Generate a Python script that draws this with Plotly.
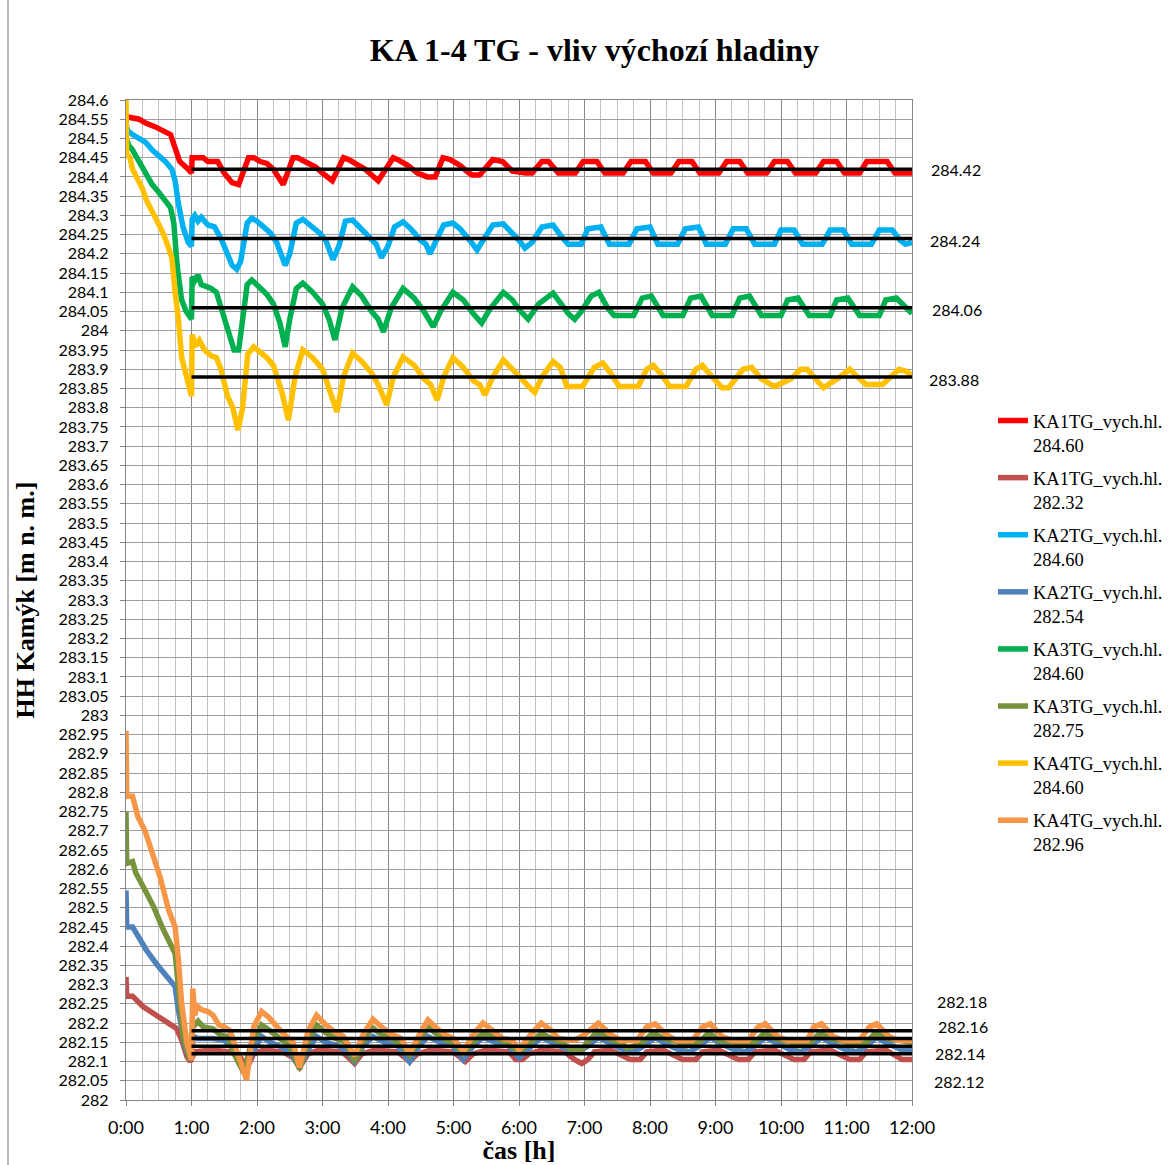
import plotly.graph_objects as go

# Water level at Kamýk (HH, m a.s.l.) over 12 hours, four TG scenarios,
# each started from a high (284.60) and a low initial level.
# Points are (time [h], level [m n. m.]).
ka1_hi = [(0.00, 284.56), (0.05, 284.555), (0.20, 284.55), (0.30, 284.54), (0.45, 284.53), (0.55, 284.52),
          (0.68, 284.51), (0.74, 284.48), (0.82, 284.44), (0.95, 284.42), (1.00, 284.41), (1.01, 284.45),
          (1.18, 284.45), (1.25, 284.44), (1.40, 284.44), (1.50, 284.41), (1.62, 284.385), (1.72, 284.38),
          (1.87, 284.45), (1.95, 284.45), (2.05, 284.44), (2.15, 284.435), (2.25, 284.42), (2.40, 284.38),
          (2.55, 284.45), (2.62, 284.45), (2.75, 284.44), (2.90, 284.425), (3.00, 284.41), (3.15, 284.39),
          (3.32, 284.45), (3.40, 284.445), (3.55, 284.43), (3.65, 284.42), (3.85, 284.39), (4.08, 284.45),
          (4.15, 284.445), (4.30, 284.43), (4.45, 284.41), (4.60, 284.40), (4.72, 284.40), (4.84, 284.45),
          (4.95, 284.445), (5.10, 284.43), (5.20, 284.415), (5.28, 284.405), (5.40, 284.405), (5.60, 284.445),
          (5.75, 284.44), (5.90, 284.415), (6.10, 284.41), (6.20, 284.41), (6.35, 284.44), (6.45, 284.44),
          (6.60, 284.41), (6.86, 284.41), (6.98, 284.44), (7.19, 284.44), (7.31, 284.41), (7.59, 284.41),
          (7.71, 284.44), (7.93, 284.44), (8.05, 284.41), (8.32, 284.41), (8.44, 284.44), (8.64, 284.44),
          (8.76, 284.41), (9.05, 284.41), (9.17, 284.44), (9.37, 284.44), (9.49, 284.41), (9.78, 284.41),
          (9.90, 284.44), (10.10, 284.44), (10.22, 284.41), (10.53, 284.41), (10.65, 284.44), (10.85, 284.44),
          (10.97, 284.41), (11.20, 284.41), (11.31, 284.44), (11.62, 284.44), (11.74, 284.41), (12.00, 284.41)]

ka1_lo = [(0.00, 282.32), (0.01, 282.27), (0.10, 282.27), (0.26, 282.243), (0.42, 282.225), (0.57, 282.208),
          (0.77, 282.186), (0.85, 282.156), (0.93, 282.113), (0.98, 282.10), (1.05, 282.125), (1.30, 282.13),
          (1.60, 282.125), (1.75, 282.11), (1.85, 282.085), (1.95, 282.12), (2.10, 282.13), (2.40, 282.125),
          (2.55, 282.11), (2.65, 282.085), (2.78, 282.12), (2.95, 282.13), (3.30, 282.125), (3.40, 282.11),
          (3.49, 282.095), (3.60, 282.12), (3.80, 282.13), (4.15, 282.125), (4.25, 282.11), (4.33, 282.10),
          (4.45, 282.12), (4.65, 282.13), (5.00, 282.125), (5.10, 282.11), (5.18, 282.10), (5.30, 282.12),
          (5.50, 282.13), (5.85, 282.125), (5.95, 282.105), (6.05, 282.105), (6.15, 282.12), (6.35, 282.13),
          (6.70, 282.125), (6.85, 282.105), (6.96, 282.095), (7.05, 282.105), (7.15, 282.125), (7.40, 282.13),
          (7.60, 282.115), (7.70, 282.105), (7.85, 282.105), (7.95, 282.125), (8.20, 282.13), (8.40, 282.115),
          (8.50, 282.105), (8.70, 282.105), (8.80, 282.125), (9.05, 282.13), (9.25, 282.115), (9.35, 282.105),
          (9.50, 282.105), (9.60, 282.125), (9.90, 282.13), (10.10, 282.115), (10.20, 282.105), (10.35, 282.105),
          (10.45, 282.125), (10.75, 282.13), (10.95, 282.115), (11.05, 282.105), (11.20, 282.105), (11.30, 282.125),
          (11.60, 282.13), (11.75, 282.115), (11.85, 282.105), (12.00, 282.105)]

ka2_hi = [(0.00, 284.535), (0.03, 284.52), (0.10, 284.51), (0.20, 284.50), (0.30, 284.49), (0.40, 284.47),
          (0.50, 284.455), (0.60, 284.44), (0.70, 284.42), (0.75, 284.39), (0.80, 284.33), (0.87, 284.27),
          (0.95, 284.23), (1.00, 284.22), (1.01, 284.29), (1.05, 284.30), (1.10, 284.285), (1.15, 284.295),
          (1.25, 284.275), (1.35, 284.27), (1.45, 284.24), (1.55, 284.20), (1.62, 284.17), (1.69, 284.16),
          (1.75, 284.18), (1.85, 284.28), (1.92, 284.293), (2.00, 284.285), (2.10, 284.27), (2.20, 284.255),
          (2.30, 284.23), (2.38, 284.19), (2.43, 284.17), (2.50, 284.20), (2.60, 284.28), (2.70, 284.29),
          (2.80, 284.275), (2.95, 284.255), (3.05, 284.235), (3.16, 284.185), (3.25, 284.22), (3.35, 284.285),
          (3.46, 284.288), (3.60, 284.265), (3.75, 284.24), (3.82, 284.225), (3.90, 284.19), (4.00, 284.22),
          (4.10, 284.27), (4.23, 284.283), (4.35, 284.265), (4.50, 284.235), (4.58, 284.225), (4.64, 284.20),
          (4.75, 284.24), (4.85, 284.275), (4.99, 284.28), (5.10, 284.265), (5.25, 284.235), (5.30, 284.225),
          (5.36, 284.21), (5.45, 284.235), (5.60, 284.275), (5.76, 284.278), (5.90, 284.255), (6.00, 284.235),
          (6.09, 284.215), (6.20, 284.23), (6.35, 284.27), (6.52, 284.275), (6.65, 284.245), (6.75, 284.225),
          (6.95, 284.225), (7.05, 284.265), (7.25, 284.27), (7.38, 284.225), (7.68, 284.225), (7.80, 284.265),
          (8.00, 284.27), (8.12, 284.225), (8.42, 284.225), (8.54, 284.265), (8.74, 284.27), (8.86, 284.225),
          (9.15, 284.225), (9.27, 284.265), (9.47, 284.265), (9.60, 284.225), (9.90, 284.225), (10.00, 284.262),
          (10.20, 284.262), (10.33, 284.225), (10.63, 284.225), (10.75, 284.262), (10.95, 284.262), (11.08, 284.225),
          (11.38, 284.225), (11.50, 284.262), (11.70, 284.262), (11.82, 284.235), (11.90, 284.225), (12.00, 284.23)]

ka2_lo = [(0.00, 282.545), (0.01, 282.45), (0.10, 282.45), (0.18, 282.425), (0.31, 282.39), (0.46, 282.355),
          (0.62, 282.32), (0.75, 282.295), (0.80, 282.234), (0.90, 282.139), (0.98, 282.104), (1.03, 282.165),
          (1.10, 282.16), (1.33, 282.16), (1.50, 282.155), (1.60, 282.14), (1.70, 282.11), (1.82, 282.075),
          (1.92, 282.12), (2.07, 282.165), (2.20, 282.15), (2.35, 282.14), (2.50, 282.125), (2.65, 282.085),
          (2.78, 282.13), (2.91, 282.165), (3.05, 282.15), (3.25, 282.14), (3.35, 282.13), (3.49, 282.10),
          (3.62, 282.14), (3.77, 282.165), (3.95, 282.15), (4.15, 282.14), (4.33, 282.10), (4.47, 282.14),
          (4.61, 282.165), (4.80, 282.15), (5.00, 282.14), (5.15, 282.105), (5.30, 282.14), (5.45, 282.163),
          (5.65, 282.15), (5.85, 282.14), (6.00, 282.11), (6.18, 282.14), (6.34, 282.163), (6.50, 282.15),
          (6.70, 282.135), (6.90, 282.125), (7.05, 282.14), (7.21, 282.163), (7.40, 282.145), (7.60, 282.13),
          (7.75, 282.125), (7.90, 282.14), (8.08, 282.163), (8.25, 282.145), (8.45, 282.13), (8.60, 282.125),
          (8.75, 282.14), (8.92, 282.163), (9.10, 282.145), (9.30, 282.13), (9.45, 282.125), (9.60, 282.14),
          (9.76, 282.163), (9.95, 282.145), (10.15, 282.13), (10.30, 282.125), (10.45, 282.14), (10.62, 282.163),
          (10.80, 282.145), (11.00, 282.13), (11.15, 282.125), (11.30, 282.14), (11.46, 282.163), (11.65, 282.145),
          (11.85, 282.13), (12.00, 282.13)]

ka3_hi = [(0.00, 284.50), (0.05, 284.48), (0.10, 284.47), (0.20, 284.44), (0.30, 284.41), (0.40, 284.38),
          (0.50, 284.36), (0.60, 284.335), (0.68, 284.32), (0.73, 284.28), (0.78, 284.17), (0.85, 284.08),
          (0.92, 284.05), (1.00, 284.03), (1.01, 284.14), (1.05, 284.13), (1.10, 284.145), (1.15, 284.12),
          (1.22, 284.115), (1.30, 284.11), (1.38, 284.10), (1.45, 284.06), (1.55, 284.00), (1.65, 283.95),
          (1.72, 283.95), (1.80, 284.06), (1.85, 284.12), (1.92, 284.132), (2.05, 284.11), (2.15, 284.095),
          (2.25, 284.07), (2.35, 284.02), (2.43, 283.958), (2.50, 284.03), (2.60, 284.11), (2.70, 284.124),
          (2.85, 284.10), (3.00, 284.07), (3.10, 284.03), (3.19, 283.976), (3.30, 284.06), (3.46, 284.114),
          (3.60, 284.09), (3.75, 284.05), (3.85, 284.03), (3.93, 283.997), (4.05, 284.06), (4.23, 284.11),
          (4.40, 284.085), (4.55, 284.05), (4.69, 284.01), (4.80, 284.05), (4.99, 284.10), (5.15, 284.08),
          (5.30, 284.045), (5.43, 284.02), (5.55, 284.055), (5.76, 284.10), (5.90, 284.08), (6.00, 284.055),
          (6.14, 284.03), (6.30, 284.07), (6.52, 284.098), (6.65, 284.07), (6.75, 284.045), (6.85, 284.03),
          (6.95, 284.05), (7.10, 284.09), (7.22, 284.10), (7.35, 284.06), (7.45, 284.04), (7.75, 284.04),
          (7.88, 284.085), (8.02, 284.09), (8.15, 284.05), (8.20, 284.04), (8.50, 284.04), (8.62, 284.085),
          (8.78, 284.09), (8.90, 284.05), (8.95, 284.04), (9.25, 284.04), (9.37, 284.085), (9.52, 284.09),
          (9.65, 284.05), (9.70, 284.04), (10.00, 284.04), (10.10, 284.08), (10.26, 284.085), (10.38, 284.05),
          (10.43, 284.04), (10.75, 284.04), (10.85, 284.08), (11.02, 284.085), (11.15, 284.05), (11.20, 284.04),
          (11.50, 284.04), (11.60, 284.08), (11.76, 284.085), (11.90, 284.06), (12.00, 284.045)]

ka3_lo = [(0.00, 282.75), (0.01, 282.615), (0.10, 282.62), (0.15, 282.59), (0.29, 282.546), (0.42, 282.503),
          (0.55, 282.45), (0.68, 282.407), (0.75, 282.381), (0.80, 282.295), (0.87, 282.165), (0.98, 282.104),
          (1.02, 282.20), (1.05, 282.195), (1.10, 282.205), (1.18, 282.19), (1.33, 282.185), (1.45, 282.168),
          (1.55, 282.165), (1.65, 282.12), (1.80, 282.07), (1.90, 282.14), (2.07, 282.195), (2.20, 282.18),
          (2.35, 282.16), (2.50, 282.14), (2.65, 282.08), (2.78, 282.15), (2.91, 282.195), (3.05, 282.175),
          (3.20, 282.16), (3.35, 282.15), (3.49, 282.10), (3.62, 282.15), (3.75, 282.19), (3.90, 282.17),
          (4.05, 282.16), (4.20, 282.145), (4.33, 282.117), (4.47, 282.155), (4.61, 282.19), (4.75, 282.17),
          (4.90, 282.155), (5.00, 282.15), (5.15, 282.12), (5.30, 282.15), (5.45, 282.175), (5.60, 282.165),
          (5.80, 282.15), (6.00, 282.125), (6.18, 282.15), (6.34, 282.173), (6.50, 282.16), (6.65, 282.15),
          (6.80, 282.13), (6.95, 282.13), (7.05, 282.15), (7.20, 282.18), (7.35, 282.16), (7.55, 282.15),
          (7.65, 282.135), (7.85, 282.145), (8.05, 282.175), (8.20, 282.16), (8.45, 282.15), (8.55, 282.14),
          (8.75, 282.15), (8.90, 282.175), (9.05, 282.155), (9.30, 282.15), (9.40, 282.14), (9.60, 282.15),
          (9.75, 282.175), (9.90, 282.16), (10.15, 282.15), (10.25, 282.14), (10.45, 282.15), (10.60, 282.175),
          (10.75, 282.16), (11.00, 282.15), (11.10, 282.14), (11.30, 282.15), (11.45, 282.175), (11.60, 282.16),
          (12.00, 282.15)]

ka4_hi = [(0.00, 284.60), (0.01, 284.46), (0.06, 284.45), (0.10, 284.42), (0.16, 284.40), (0.25, 284.37),
          (0.31, 284.34), (0.40, 284.31), (0.47, 284.29), (0.55, 284.26), (0.62, 284.23), (0.70, 284.19),
          (0.75, 284.10), (0.80, 284.03), (0.85, 283.93), (0.93, 283.88), (1.00, 283.83), (1.01, 283.99),
          (1.06, 283.96), (1.12, 283.975), (1.20, 283.95), (1.30, 283.935), (1.38, 283.93), (1.45, 283.90),
          (1.55, 283.83), (1.63, 283.80), (1.71, 283.742), (1.78, 283.80), (1.86, 283.94), (1.95, 283.958),
          (2.05, 283.945), (2.15, 283.93), (2.25, 283.91), (2.38, 283.84), (2.48, 283.768), (2.58, 283.88),
          (2.70, 283.95), (2.85, 283.93), (3.00, 283.90), (3.10, 283.85), (3.22, 283.789), (3.32, 283.88),
          (3.46, 283.942), (3.60, 283.92), (3.75, 283.89), (3.85, 283.86), (3.98, 283.807), (4.08, 283.88),
          (4.23, 283.932), (4.40, 283.91), (4.55, 283.875), (4.65, 283.86), (4.75, 283.82), (4.85, 283.88),
          (4.99, 283.93), (5.15, 283.905), (5.30, 283.87), (5.40, 283.86), (5.48, 283.833), (5.60, 283.88),
          (5.76, 283.924), (5.90, 283.90), (6.05, 283.87), (6.15, 283.855), (6.24, 283.84), (6.35, 283.88),
          (6.52, 283.92), (6.63, 283.905), (6.73, 283.855), (6.97, 283.855), (7.15, 283.905), (7.28, 283.916),
          (7.40, 283.89), (7.53, 283.855), (7.82, 283.855), (7.95, 283.90), (8.05, 283.91), (8.18, 283.885),
          (8.30, 283.855), (8.55, 283.855), (8.70, 283.90), (8.80, 283.91), (8.95, 283.88), (9.10, 283.852),
          (9.20, 283.852), (9.42, 283.90), (9.55, 283.905), (9.70, 283.875), (9.90, 283.855), (10.15, 283.875),
          (10.30, 283.90), (10.40, 283.90), (10.55, 283.87), (10.65, 283.852), (10.90, 283.88), (11.05, 283.90),
          (11.20, 283.875), (11.30, 283.86), (11.55, 283.86), (11.70, 283.885), (11.80, 283.90), (11.90, 283.895),
          (12.00, 283.885)]

ka4_lo = [(0.00, 282.96), (0.01, 282.79), (0.10, 282.79), (0.18, 282.737), (0.29, 282.70), (0.39, 282.65),
          (0.52, 282.58), (0.65, 282.494), (0.75, 282.45), (0.80, 282.364), (0.85, 282.25), (0.93, 282.148),
          (1.00, 282.104), (1.02, 282.29), (1.05, 282.22), (1.08, 282.245), (1.15, 282.235), (1.25, 282.23),
          (1.33, 282.22), (1.42, 282.195), (1.50, 282.19), (1.59, 282.18), (1.70, 282.12), (1.84, 282.052),
          (1.95, 282.19), (2.07, 282.23), (2.18, 282.215), (2.30, 282.19), (2.40, 282.173), (2.55, 282.15),
          (2.65, 282.085), (2.78, 282.18), (2.91, 282.22), (3.05, 282.195), (3.16, 282.18), (3.32, 282.165),
          (3.49, 282.115), (3.62, 282.17), (3.77, 282.21), (3.90, 282.19), (4.03, 282.173), (4.20, 282.16),
          (4.33, 282.12), (4.48, 282.17), (4.61, 282.208), (4.75, 282.185), (4.89, 282.168), (5.00, 282.16),
          (5.15, 282.126), (5.30, 282.17), (5.45, 282.20), (5.60, 282.18), (5.75, 282.16), (5.90, 282.155),
          (6.00, 282.13), (6.18, 282.17), (6.34, 282.20), (6.50, 282.18), (6.60, 282.16), (6.85, 282.155),
          (7.00, 282.17), (7.21, 282.20), (7.40, 282.17), (7.55, 282.155), (7.80, 282.155), (7.95, 282.19),
          (8.08, 282.198), (8.25, 282.17), (8.40, 282.155), (8.65, 282.155), (8.80, 282.19), (8.92, 282.198),
          (9.10, 282.165), (9.25, 282.155), (9.50, 282.155), (9.65, 282.19), (9.76, 282.198), (9.95, 282.165),
          (10.10, 282.155), (10.40, 282.155), (10.50, 282.19), (10.62, 282.198), (10.80, 282.165), (10.95, 282.155),
          (11.20, 282.155), (11.35, 282.19), (11.46, 282.198), (11.65, 282.165), (11.80, 282.155), (12.00, 282.155)]

series_names = ["KA1TG_vych.hl.<br>284.60", "KA1TG_vych.hl.<br>282.32",
                "KA2TG_vych.hl.<br>284.60", "KA2TG_vych.hl.<br>282.54",
                "KA3TG_vych.hl.<br>284.60", "KA3TG_vych.hl.<br>282.75",
                "KA4TG_vych.hl.<br>284.60", "KA4TG_vych.hl.<br>282.96"]
series_data = [ka1_hi, ka1_lo, ka2_hi, ka2_lo, ka3_hi, ka3_lo, ka4_hi, ka4_lo]
series_colors = ["#FF0000", "#C0504D", "#00B0F0", "#4F81BD",
                 "#00B050", "#77933C", "#FFC000", "#F79646"]

# Steady levels reached after the first hour
ref_levels = [284.42, 284.24, 284.06, 283.88, 282.18, 282.16, 282.14, 282.12]
ref_start, ref_end = 1.0, 12.0
# label anchor heights (the four lower labels are spread apart)
ref_label_y = [284.42, 284.235, 284.055, 283.873, 282.255, 282.192, 282.12, 282.047]
ref_label_x = [1.0215, 1.0205, 1.023, 1.0195, 1.029, 1.0305, 1.027, 1.026]

hour_ticks = list(range(0, 13))
hour_labels = [f"{h}:00" for h in hour_ticks]
level_ticks = [round(282 + 0.05 * i, 2) for i in range(53)]
level_labels = [f"{v:g}" for v in level_ticks]

fig = go.Figure()

for name, pts, col in zip(series_names, series_data, series_colors):
    fig.add_trace(go.Scatter(
        x=[p[0] for p in pts], y=[p[1] for p in pts],
        mode="lines", name=name, legendgroup=name,
        line=dict(color=col, width=5.5),
    ))

for lvl in ref_levels:
    fig.add_trace(go.Scatter(
        x=[ref_start, ref_end], y=[lvl, lvl], mode="lines",
        line=dict(color="black", width=3.5), showlegend=False, hoverinfo="skip",
    ))

for txt, ly, lx in zip(ref_levels, ref_label_y, ref_label_x):
    fig.add_annotation(x=lx, xref="paper", y=ly, yref="y", text=f"{txt:.2f}",
                       showarrow=False, xanchor="left", yanchor="middle",
                       font=dict(family="Lato", size=16, color="black"))

serif = "Liberation Serif"

fig.update_layout(
    width=1170, height=1165,
    margin=dict(l=126, r=258, t=100, b=65, autoexpand=False),
    paper_bgcolor="white", plot_bgcolor="white",
    title=dict(text="<b>KA 1-4 TG - vliv výchozí hladiny</b>", x=0.508, xanchor="center",
               y=1 - 50 / 1165, yref="container", yanchor="middle",
               font=dict(family=serif, size=32, color="black")),
    showlegend=True,
    legend=dict(x=1.103, xanchor="left", y=0.698, yanchor="top",
                font=dict(family=serif, size=18.5, color="black"),
                valign="top", traceorder="grouped", tracegroupgap=6,
                bgcolor="rgba(0,0,0,0)"),
    shapes=[dict(type="line", xref="paper", yref="paper",
                 x0=(8 - 126) / 786, x1=(8 - 126) / 786, y0=-0.07, y1=1.1,
                 line=dict(color="#A0A0A0", width=1.5))],
)

fig.update_xaxes(
    range=[0, 12], tickmode="array", tickvals=hour_ticks, ticktext=hour_labels,
    showgrid=True, gridcolor="#868686", gridwidth=1.3,
    minor=dict(tickmode="linear", tick0=0, dtick=0.25, showgrid=True,
               gridcolor="#C3C3C3", gridwidth=1.3, ticks=""),
    zeroline=False, showline=True, linecolor="#868686", linewidth=1.3, mirror=True,
    ticks="outside", ticklen=5, tickcolor="#868686",
    tickfont=dict(family="Lato", size=18, color="black"), ticklabelstandoff=6,
    automargin=False,
    title=dict(text="<b>čas [h]</b>", font=dict(family=serif, size=26, color="black"), standoff=2),
)
fig.update_yaxes(
    range=[282, 284.6], tickmode="array", tickvals=level_ticks, ticktext=level_labels,
    showgrid=True, gridcolor="#9E9E9E", gridwidth=1.3,
    zeroline=False, showline=True, linecolor="#868686", linewidth=1.3, mirror=True,
    ticks="outside", ticklen=5, tickcolor="#868686",
    tickfont=dict(family="Lato", size=16, color="black"), ticklabelstandoff=8,
    automargin=False,
    title=dict(text="<b>HH Kamýk [m n. m.]</b>", font=dict(family=serif, size=26, color="black"), standoff=16),
)

fig.write_html("out.html")
